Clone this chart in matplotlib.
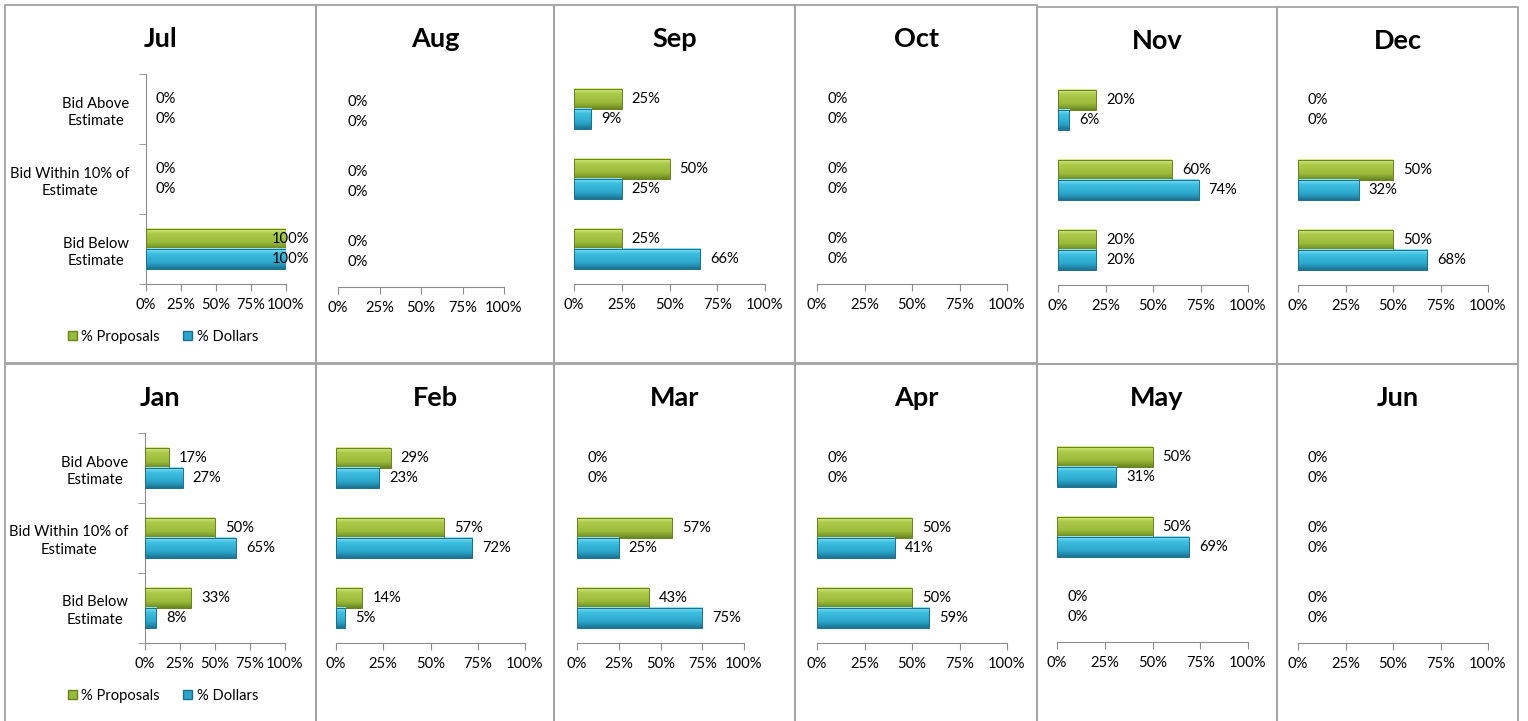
import numpy as np
import matplotlib
matplotlib.use('Agg')
import matplotlib.pyplot as plt
from matplotlib.colors import LinearSegmentedColormap
from matplotlib.patches import Rectangle, Patch

plt.rcParams['font.family'] = ['Lato', 'DejaVu Sans']

# Data: values per month, categories ordered bottom -> top
months = ['Jul', 'Aug', 'Sep', 'Oct', 'Nov', 'Dec',
          'Jan', 'Feb', 'Mar', 'Apr', 'May', 'Jun']
categories = ['Bid Below\nEstimate', 'Bid Within 10% of\nEstimate', 'Bid Above\nEstimate']
series_names = ['% Proposals', '% Dollars']

pct_proposals = [
    [100, 0, 0],   # Jul
    [0, 0, 0],     # Aug
    [25, 50, 25],  # Sep
    [0, 0, 0],     # Oct
    [20, 60, 20],  # Nov
    [50, 50, 0],   # Dec
    [33, 50, 17],  # Jan
    [14, 57, 29],  # Feb
    [43, 57, 0],   # Mar
    [50, 50, 0],   # Apr
    [0, 50, 50],   # May
    [0, 0, 0],     # Jun
]
pct_dollars = [
    [100, 0, 0],
    [0, 0, 0],
    [66, 25, 9],
    [0, 0, 0],
    [20, 74, 6],
    [68, 32, 0],
    [8, 65, 27],
    [5, 72, 23],
    [75, 25, 0],
    [59, 41, 0],
    [0, 69, 31],
    [0, 0, 0],
]
xticks = [0, 25, 50, 75, 100]

W, H = 1528, 721
fig = plt.figure(figsize=(W / 100, H / 100), dpi=100)

# chart frames in pixels (left, top, right, bottom)
frames = [
    (5, 5, 316, 363), (316, 5, 554, 363), (554, 5, 795, 363),
    (795, 5, 1037, 363), (1037, 7, 1277, 364), (1277, 7, 1518, 364),
    (5, 364, 316, 740), (316, 364, 554, 740), (554, 364, 795, 740),
    (795, 364, 1037, 740), (1037, 364, 1277, 740), (1277, 364, 1518, 740),
]
# plot areas in pixels (left, right, top, bottom)
plot_areas = [
    (146, 286, 74, 284), (338, 504, 77, 287), (574, 765, 74, 284),
    (817, 1007, 74, 284), (1058, 1248, 75, 285), (1298, 1488, 75, 285),
    (145, 285, 433, 643), (336, 525, 433, 643), (577, 744, 433, 643),
    (817, 1007, 433, 643), (1057, 1248, 432, 642), (1298, 1488, 433, 643),
]
with_labels = {'Jul', 'Jan'}
fs = 10.6

green_cmap = LinearSegmentedColormap.from_list(
    'green', [(0, '#dcef8c'), (0.25, '#adcb4b'), (0.7, '#9aba39'), (1, '#6a8722')])
blue_cmap = LinearSegmentedColormap.from_list(
    'blue', [(0, '#8fe5f8'), (0.25, '#3ec0e1'), (0.7, '#2ba6cb'), (1, '#1b7390')])
green_edge, blue_edge = '#66821f', '#1b6f8c'
grad = np.linspace(0, 1, 60).reshape(-1, 1)
axis_grey = '#8c8c8c'
bar_h = 0.29
ypos = np.arange(len(categories))

for i, month in enumerate(months):
    l, t, r, b = frames[i]
    fig.add_artist(Rectangle((l / W, 1 - b / H), (r - l) / W, (b - t) / H,
                             transform=fig.transFigure, fill=False,
                             ec='#a3a3a3', lw=1.3))
    fig.text((l + r) / 2 / W, 1 - (t + 34) / H, month, ha='center', va='center',
             fontsize=19.5, fontweight='bold')

    x0, x1, y0, y1 = plot_areas[i]
    ax = fig.add_axes([x0 / W, 1 - y1 / H, (x1 - x0) / W, (y1 - y0) / H])

    for vals, off, cmap, edge in [(pct_proposals[i], bar_h / 2, green_cmap, green_edge),
                                  (pct_dollars[i], -bar_h / 2, blue_cmap, blue_edge)]:
        for y, v in zip(ypos, vals):
            yc = y + off
            if v > 0:
                ax.imshow(grad, cmap=cmap, aspect='auto', origin='upper',
                          extent=(0, v, yc - bar_h / 2, yc + bar_h / 2), zorder=2)
                ax.barh(yc, v, height=bar_h, fill=False, edgecolor=edge, lw=0.7, zorder=3)
            if v >= 100:
                ax.annotate(f'{v}%', xy=(v, yc), xytext=(16.5, 0), textcoords='offset points',
                            ha='right', va='center', fontsize=fs, annotation_clip=False, zorder=4)
            else:
                ax.annotate(f'{v}%', xy=(v, yc), xytext=(7.2, 0), textcoords='offset points',
                            ha='left', va='center', fontsize=fs, annotation_clip=False)

    ax.set_xlim(0, 100)
    ax.set_ylim(-0.5, 2.5)
    ax.set_facecolor('none')
    for s in ['top', 'right']:
        ax.spines[s].set_visible(False)
    ax.spines['bottom'].set_color(axis_grey)
    ax.set_xticks(xticks)
    ax.set_xticklabels([f'{v}%' for v in xticks])
    ax.tick_params(axis='x', direction='out', length=5, color=axis_grey,
                   pad=5, labelsize=fs)

    if month in with_labels:
        ax.spines['left'].set_color(axis_grey)
        ax.set_yticks(ypos)
        ax.set_yticklabels(categories, multialignment='center', linespacing=1.3)
        ax.set_yticks([-0.5, 0.5, 1.5, 2.5], minor=True)
        ax.tick_params(axis='y', which='major', length=0, pad=12, labelsize=fs)
        ax.tick_params(axis='y', which='minor', length=5, color=axis_grey)
        leg_y = b - 26 if b < 400 else 696
        handles = [Patch(facecolor='#9aba39', edgecolor=green_edge),
                   Patch(facecolor='#2ba6cb', edgecolor=blue_edge)]
        fig.legend(handles, series_names, loc='center', ncol=2, frameon=False,
                   bbox_to_anchor=(163 / W, 1 - leg_y / H), fontsize=fs,
                   handlelength=0.6, handleheight=0.6, handletextpad=0.3,
                   columnspacing=1.6)
    else:
        ax.spines['left'].set_visible(False)
        ax.set_yticks([])

fig.savefig('out.png', dpi=100)
